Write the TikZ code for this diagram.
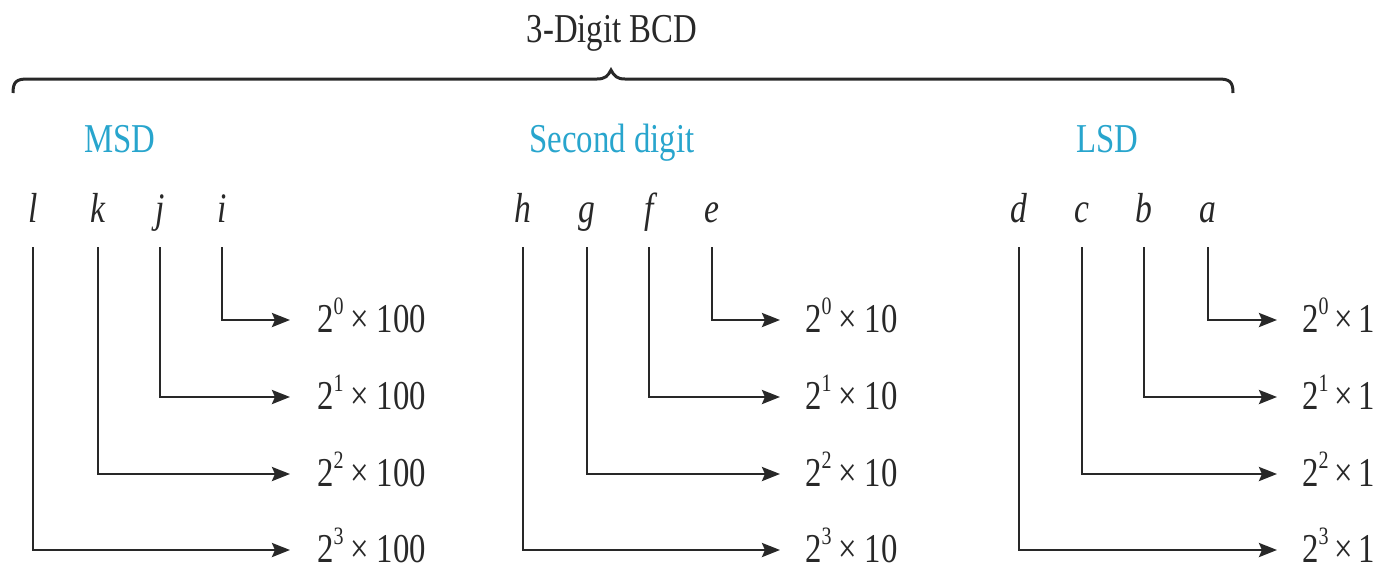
\documentclass[tikz,border=0pt]{standalone}
\usepackage{fontspec}
\setmainfont{Liberation Serif}[FakeStretch=0.8]
\usetikzlibrary{arrows.meta}
\definecolor{ink}{RGB}{40,40,40}
\definecolor{digitblue}{RGB}{40,165,205}
\newcommand{\pw}[1]{2\raisebox{0.42em}{\fontsize{25}{25}\selectfont #1}}
\tikzset{
  x=1pt, y=-1pt,
  txt/.style={inner sep=0pt, text=ink, font=\fontsize{41}{48}\selectfont},
  head/.style={txt, text=digitblue, anchor=base},
  bit/.style={txt, anchor=base, font=\fontsize{42}{48}\selectfont\itshape},
  val/.style={txt, anchor=base west},
  conn/.style={draw=ink, line width=2.8pt, -{Stealth[length=18pt,width=14pt,inset=3pt]}},
  bracestyle/.style={draw=ink, line width=3pt}
}
\begin{document}
\begin{tikzpicture}
\useasboundingbox (0,0) rectangle (1382,571);
% brace
\draw[bracestyle] (13,93) .. controls (13,81) and (17,79) .. (28,79) -- (597,79)
  .. controls (605,79) and (608,76) .. (611,70) .. controls (614,76) and (617,79) .. (625,79)
  -- (1218,79) .. controls (1229,79) and (1233,81) .. (1233,93);
\node[txt, anchor=base] (title) at (612,42) {3-Digit BCD};
% group headings
\node[head] (msd) at (120,152) {MSD};
\node[head] (sec) at (612,152) {Second digit};
\node[head] (lsd) at (1107,152) {LSD};
% bit letters
\node[bit] (l) at (33,222) {l};
\node[bit] (k) at (98,222) {k};
\node[bit] (j) at (160,222) {j};
\node[bit] (i) at (222,222) {i};
\node[bit] (h) at (523,222) {h};
\node[bit] (g) at (587,222) {g};
\node[bit] (f) at (649,222) {f};
\node[bit] (e) at (712,222) {e};
\node[bit] (d) at (1019,222) {d};
\node[bit] (c) at (1082,222) {c};
\node[bit] (b) at (1144,222) {b};
\node[bit] (a) at (1208,222) {a};
% values
\foreach \n/\y in {0/320,1/397,2/474,3/550}{
  \node[val] (A\n) at (317,\y+12) {\pw{\n}\hspace{0.18em}×\hspace{0.18em}100};
  \node[val] (B\n) at (805,\y+12) {\pw{\n}\hspace{0.18em}×\hspace{0.18em}10};
  \node[val] (C\n) at (1302,\y+12) {\pw{\n}\hspace{0.14em}×\hspace{0.14em}1};
}
% connectors
\draw[conn] ([yshift=-25pt]i.base) |- ([xshift=-27pt,yshift=12pt]A0.base west);
\draw[conn] ([yshift=-25pt]j.base) |- ([xshift=-27pt,yshift=12pt]A1.base west);
\draw[conn] ([yshift=-25pt]k.base) |- ([xshift=-27pt,yshift=12pt]A2.base west);
\draw[conn] ([yshift=-25pt]l.base) |- ([xshift=-27pt,yshift=12pt]A3.base west);
\draw[conn] ([yshift=-25pt]e.base) |- ([xshift=-25pt,yshift=12pt]B0.base west);
\draw[conn] ([yshift=-25pt]f.base) |- ([xshift=-25pt,yshift=12pt]B1.base west);
\draw[conn] ([yshift=-25pt]g.base) |- ([xshift=-25pt,yshift=12pt]B2.base west);
\draw[conn] ([yshift=-25pt]h.base) |- ([xshift=-25pt,yshift=12pt]B3.base west);
\draw[conn] ([yshift=-25pt]a.base) |- ([xshift=-25pt,yshift=12pt]C0.base west);
\draw[conn] ([yshift=-25pt]b.base) |- ([xshift=-25pt,yshift=12pt]C1.base west);
\draw[conn] ([yshift=-25pt]c.base) |- ([xshift=-25pt,yshift=12pt]C2.base west);
\draw[conn] ([yshift=-25pt]d.base) |- ([xshift=-25pt,yshift=12pt]C3.base west);
\end{tikzpicture}
\end{document}
